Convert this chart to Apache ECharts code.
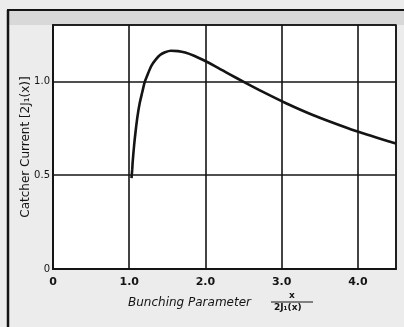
<!DOCTYPE html>
<html>
<head>
<meta charset="utf-8">
<script src="https://cdn.jsdelivr.net/npm/echarts@6/dist/echarts.min.js"></script>
<style>
  html, body { margin: 0; padding: 0; background: #ececec; }
  #chart { width: 404px; height: 327px; }
</style>
</head>
<body>
<div id="chart"></div>
<script>
// Bunching parameter (x axis) and normalised catcher current (y axis)
const bunchingParam = [1.03, 1.039, 1.046, 1.064, 1.085, 1.108, 1.136, 1.17, 1.204, 1.25, 1.292, 1.35, 1.404, 1.47, 1.548, 1.64, 1.734, 1.85, 1.978, 2.13, 2.307, 2.52, 2.761, 3.057, 3.417, 3.862, 4.127, 4.423, 4.5];
const catcherCurrent = [0.484, 0.529, 0.573, 0.658, 0.738, 0.812, 0.88, 0.94, 0.997, 1.045, 1.084, 1.117, 1.14, 1.155, 1.163, 1.161, 1.153, 1.136, 1.112, 1.08, 1.04, 0.993, 0.942, 0.883, 0.819, 0.751, 0.715, 0.678, 0.669];
const xTicks = { 0: '0', 1: '1.0', 2: '2.0', 3: '3.0', 4: '4.0' };
const yTicks = { 0: '0', 0.5: '0.5', 1: '1.0' };

const ink = '#141414';
const font = 'DejaVu Sans';

const chart = echarts.init(document.getElementById('chart'), null, { renderer: 'canvas' });

chart.setOption({
  backgroundColor: '#ececec',
  animation: false,
  grid: {
    left: 53, right: 8, top: 25, bottom: 58,
    show: true, backgroundColor: '#ffffff', borderColor: ink, borderWidth: 1.5
  },
  xAxis: {
    type: 'value', min: 0, max: 4.5, interval: 1,
    axisLine: { show: true, lineStyle: { color: ink, width: 2 } },
    axisTick: { show: false },
    splitLine: { show: true, lineStyle: { color: ink, width: 1.6 } },
    axisLabel: {
      color: ink, fontFamily: font, fontSize: 11, fontWeight: 'bold', margin: 8,
      formatter: v => xTicks[v] !== undefined ? xTicks[v] : ''
    }
  },
  yAxis: {
    type: 'value', min: 0, max: 1.3, interval: 0.5,
    name: 'Catcher Current [2J\u2081(x)]',
    nameLocation: 'middle', nameGap: 21, nameRotate: 90,
    nameMoveOverlap: false,
    nameTextStyle: { color: ink, fontFamily: font, fontSize: 12 },
    axisLine: { show: true, lineStyle: { color: ink, width: 2 } },
    axisTick: { show: false },
    splitLine: { show: true, lineStyle: { color: ink, width: 1.6 } },
    axisLabel: {
      color: ink, fontFamily: font, fontSize: 10, margin: 3,
      formatter: v => yTicks[v] !== undefined ? yTicks[v] : ''
    }
  },
  graphic: [
    // scan frame along the top and left edges
    { type: 'rect', shape: { x: 8, y: 10, width: 396, height: 15 }, style: { fill: '#d8d8d8' }, silent: true, z: -1 },
    { type: 'line', shape: { x1: 7, y1: 10, x2: 404, y2: 10 }, style: { stroke: ink, lineWidth: 2 } },
    { type: 'line', shape: { x1: 8, y1: 10, x2: 8, y2: 327 }, style: { stroke: ink, lineWidth: 2.5 } },
    // axis title with fraction
    { type: 'text', left: 128, top: 297, style: { text: 'Bunching Parameter', fill: ink, font: 'italic 12px "DejaVu Sans"' } },
    { type: 'text', left: 289, top: 291, style: { text: 'x', fill: ink, font: 'bold 9px "DejaVu Sans"' } },
    { type: 'line', shape: { x1: 271, y1: 302, x2: 313, y2: 302 }, style: { stroke: ink, lineWidth: 1 } },
    { type: 'text', left: 274, top: 303, style: { text: '2J\u2081(x)', fill: ink, font: 'bold 9px "DejaVu Sans"' } }
  ],
  series: [{
    type: 'line',
    data: bunchingParam.map((x, i) => [x, catcherCurrent[i]]),
    smooth: 0.3,
    showSymbol: false,
    lineStyle: { color: ink, width: 2.6 },
    z: 5
  }]
});
</script>
</body>
</html>
